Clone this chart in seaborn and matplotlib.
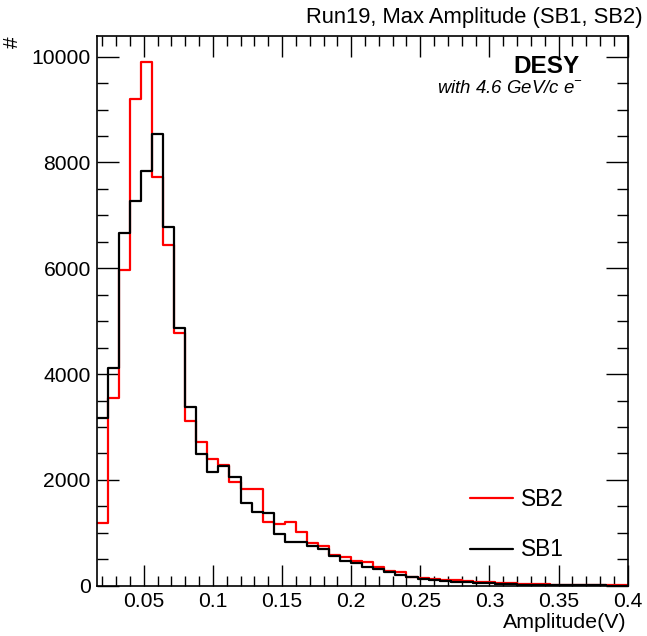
import numpy as np
import pandas as pd
import matplotlib
matplotlib.use("Agg")
import matplotlib.pyplot as plt
from matplotlib.lines import Line2D
from matplotlib.ticker import MultipleLocator
import seaborn as sns

# ---- data ----
bin_lo = 0.016
bin_width = 0.008
n_bins = 48
sb2_counts = [1191, 3542, 5968, 9206, 9894, 7732, 6440, 4771, 3119, 2722,
              2389, 2287, 1966, 1834, 1834, 1198, 1160, 1210, 1009, 813,
              750, 580, 537, 467, 454, 359, 284, 253, 170, 140,
              121, 108, 100, 85, 72, 62, 52, 42, 36, 30,
              25, 21, 18, 15, 12, 10, 8, 6]
sb1_counts = [3164, 4109, 6673, 7266, 7834, 8533, 6781, 4877, 3384, 2490,
              2143, 2263, 2061, 1569, 1393, 1374, 971, 820, 832, 750,
              688, 561, 467, 423, 359, 310, 253, 197, 159, 127,
              108, 95, 78, 64, 54, 45, 36, 28, 22, 18,
              14, 10, 8, 6, 5, 4, 3, 2]
tick_labels = ["0.05", "0.1", "0.15", "0.2", "0.25", "0.3", "0.35", "0.4"]
title = "Run19, Max Amplitude (SB1, SB2)"
x_label = "Amplitude(V)"
y_label = "#"

edges = [float(v) for v in bin_lo + bin_width * np.arange(n_bins + 1)]
centers = [0.5 * (a + b) for a, b in zip(edges[:-1], edges[1:])]
df = pd.DataFrame({"amp": centers + centers,
                   "count": sb1_counts + sb2_counts,
                   "series": ["SB1"] * n_bins + ["SB2"] * n_bins})

sns.set_style("white")
plt.rcParams['font.family'] = ['Liberation Sans', 'DejaVu Sans']
plt.rcParams.update({"text.color": "black", "axes.labelcolor": "black",
                     "xtick.color": "black", "ytick.color": "black",
                     "axes.edgecolor": "black"})

fig = plt.figure(figsize=(6.47, 6.36), dpi=100)
ax = fig.add_axes([0.1495, 0.0791, 0.9702 - 0.1495, 0.9434 - 0.0791])

sns.histplot(data=df[df.series == "SB2"], x="amp", weights="count", bins=edges,
             element="step", fill=False, color="#ff0000", linewidth=1.6, ax=ax)
sns.histplot(data=df[df.series == "SB1"], x="amp", weights="count", bins=edges,
             element="step", fill=False, color="black", linewidth=1.6, ax=ax)

ax.set_xlim(edges[0], edges[-1])
ax.set_ylim(0, 10390)
ax.set_xlabel("")
ax.set_ylabel("")

ax.xaxis.set_minor_locator(MultipleLocator(0.01))
ax.yaxis.set_major_locator(MultipleLocator(2000))
ax.yaxis.set_minor_locator(MultipleLocator(500))
ax.set_xticks(np.arange(0.05, 0.401, 0.05))
ax.set_xticklabels(tick_labels)
ax.tick_params(which="both", direction="in", top=True, right=True,
               bottom=True, left=True, width=1.0, color="black", labelcolor="black")
ax.tick_params(which="major", length=15, labelsize=15.2, pad=4.5)
ax.tick_params(which="minor", length=7.5)
ax.tick_params(axis="y", which="major", length=16, pad=4.3)
ax.tick_params(axis="y", which="minor", length=8)
for s in ax.spines.values():
    s.set_color("black")
    s.set_linewidth(1.2)

fig.text(0.994, 0.973, title, ha="right", va="center", fontsize=15.8)
fig.text(0.969, 0.0121, x_label, ha="right", va="baseline", fontsize=15.4)
fig.text(0.0195, 0.933, y_label, ha="center", va="center", fontsize=15, rotation=90)

ax.text(0.910, 0.944, "DESY", transform=ax.transAxes, ha="right", va="center",
        fontsize=17.5, fontweight="bold")
ax.text(0.916, 0.904, r"with 4.6 GeV/c e$^{\mathregular{-}}$", transform=ax.transAxes,
        ha="right", va="center", fontsize=13.4, style="italic")

handles = [Line2D([0], [0], color="#ff0000", lw=1.6),
           Line2D([0], [0], color="black", lw=1.6)]
ax.legend(handles, ["SB2", "SB1"], loc="upper left", bbox_to_anchor=(0.7264, 0.233),
          bbox_transform=fig.transFigure, frameon=False, fontsize=16.3,
          handlelength=1.9, handletextpad=0.36, labelspacing=1.22, borderpad=0,
          borderaxespad=0)

fig.savefig("out.png", dpi=100)
